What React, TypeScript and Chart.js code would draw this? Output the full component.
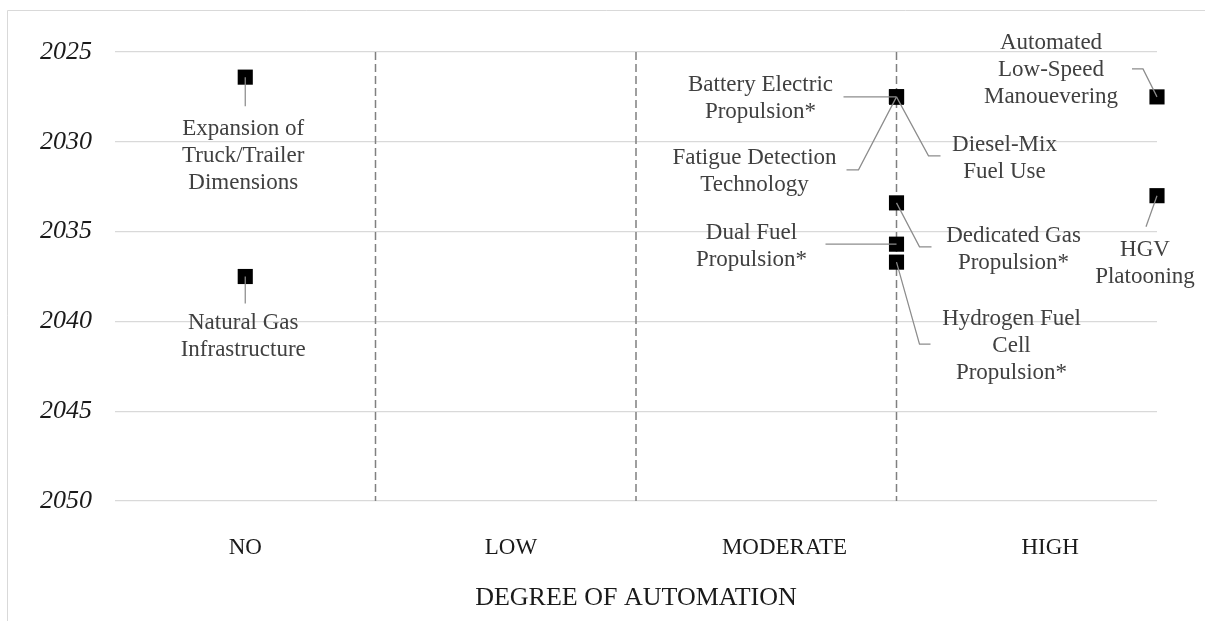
import React, { useEffect, useRef } from 'react';
import { Chart, registerables } from 'chart.js';

Chart.register(...registerables);

// ---------- data ----------
const categories = ['NO', 'LOW', 'MODERATE', 'HIGH'];
const categoryLabelPos = [0.5, 1.52, 2.57, 3.59];
const yearTicks = [2025, 2030, 2035, 2040, 2045, 2050];
const boundaries = [1, 2, 3];

const techNames: string[][] = [
  ['Expansion of', 'Truck/Trailer', 'Dimensions'],
  ['Natural Gas', 'Infrastructure'],
  ['Battery Electric', 'Propulsion*'],
  ['Fatigue Detection', 'Technology'],
  ['Diesel-Mix', 'Fuel Use'],
  ['Dedicated Gas', 'Propulsion*'],
  ['Dual Fuel', 'Propulsion*'],
  ['Hydrogen Fuel', 'Cell', 'Propulsion*'],
  ['Automated', 'Low-Speed', 'Manouevering'],
  ['HGV', 'Platooning'],
];
const techAutomation = [0.5, 0.5, 3, 3, 3, 3, 3, 3, 4, 4];
const techYear = [2026.4, 2037.5, 2027.5, 2027.5, 2027.5, 2033.4, 2035.7, 2036.7, 2027.5, 2033.0];

// ---------- label layout (pixel offsets from each marker) ----------
const labelLayout: { dx: number; dy: number; leader: number[][] }[] = [
  { dx: -2, dy: 52, leader: [[0, 29]] },
  { dx: -2, dy: 46, leader: [[0, 27]] },
  { dx: -136, dy: -12, leader: [[-53, 0]] },
  { dx: -142, dy: 61, leader: [[-38, 73], [-50, 73]] },
  { dx: 108, dy: 48, leader: [[32, 59], [44, 59]] },
  { dx: 117, dy: 33, leader: [[23, 44], [35, 44]] },
  { dx: -145, dy: -11, leader: [[-71, 0]] },
  { dx: 115, dy: 57, leader: [[23, 82], [34, 82]] },
  { dx: -106, dy: -54, leader: [[-14, -28], [-25, -28]] },
  { dx: -12, dy: 54, leader: [[-11, 31]] },
];

const SERIF = '"Liberation Serif", "Times New Roman", serif';

const techLabelPlugin = {
  id: 'techLabels',
  beforeDraw(chart: any) {
    const ctx = chart.ctx;
    ctx.save();
    ctx.strokeStyle = '#d9d9d9';
    ctx.lineWidth = 1;
    ctx.beginPath();
    ctx.moveTo(7.5, 621);
    ctx.lineTo(7.5, 10.5);
    ctx.lineTo(1205, 10.5);
    ctx.stroke();
    ctx.restore();
  },
  afterDatasetsDraw(chart: any) {
    const ctx = chart.ctx;
    const xs = chart.scales.x;
    const ys = chart.scales.y;
    ctx.save();
    techNames.forEach((lines, i) => {
      const px = xs.getPixelForValue(techAutomation[i]);
      const py = ys.getPixelForValue(techYear[i]);
      const L = labelLayout[i];
      ctx.strokeStyle = '#8c8c8c';
      ctx.lineWidth = 1.25;
      ctx.beginPath();
      ctx.moveTo(px, py);
      L.leader.forEach(([dx, dy]) => ctx.lineTo(px + dx, py + dy));
      ctx.stroke();
      ctx.font = `23px ${SERIF}`;
      ctx.fillStyle = '#404040';
      ctx.textAlign = 'center';
      ctx.textBaseline = 'middle';
      lines.forEach((t, j) => ctx.fillText(t, px + L.dx, py + L.dy + j * 27));
    });
    ctx.restore();
  },
};

export default function App() {
  const canvasRef = useRef<HTMLCanvasElement | null>(null);

  useEffect(() => {
    if (!canvasRef.current) return;
    const dashed = boundaries.map((b) => ({
      type: 'line' as const,
      data: [
        { x: b, y: yearTicks[0] },
        { x: b, y: yearTicks[yearTicks.length - 1] },
      ],
      borderColor: '#808080',
      borderWidth: 1.5,
      borderDash: [8, 4],
      pointRadius: 0,
      fill: false,
      order: 2,
    }));
    const chart = new Chart(canvasRef.current, {
      type: 'scatter',
      data: {
        datasets: [
          {
            type: 'scatter',
            data: techAutomation.map((x, i) => ({ x, y: techYear[i] })),
            pointStyle: 'rect',
            pointRadius: 10.7,
            pointHoverRadius: 10.7,
            backgroundColor: '#000000',
            borderWidth: 0,
            clip: false,
            order: 0,
          } as any,
          ...dashed,
        ],
      },
      options: {
        animation: false,
        responsive: false,
        events: [],
        layout: { padding: { top: 52, right: 48, left: 0, bottom: 0 } },
        plugins: { legend: { display: false }, tooltip: { enabled: false } },
        scales: {
          x: {
            type: 'linear',
            min: 0,
            max: 4,
            grid: { display: false, drawTicks: false },
            border: { display: false },
            afterBuildTicks: (s: any) => {
              s.ticks = categoryLabelPos.map((v) => ({ value: v }));
            },
            afterFit: (s: any) => {
              s.height = 120;
            },
            ticks: {
              autoSkip: false,
              maxRotation: 0,
              padding: 33,
              color: '#1a1a1a',
              font: { family: SERIF, size: 23 },
              callback: (_v: any, i: number) => categories[i],
            },
            title: {
              display: true,
              text: 'DEGREE OF AUTOMATION',
              color: '#1a1a1a',
              font: { family: SERIF, size: 26 },
              padding: { top: 0, bottom: 7 },
            },
          },
          y: {
            type: 'linear',
            reverse: true,
            min: yearTicks[0],
            max: yearTicks[yearTicks.length - 1],
            grid: { color: '#d9d9d9', lineWidth: 1.2, drawTicks: false },
            border: { display: false },
            afterBuildTicks: (s: any) => {
              s.ticks = yearTicks.map((v) => ({ value: v }));
            },
            afterFit: (s: any) => {
              s.width = 115;
            },
            ticks: {
              padding: 23,
              color: '#1a1a1a',
              font: { family: SERIF, size: 26, style: 'italic' },
              callback: (v: any) => String(v),
            },
          },
        },
      },
      plugins: [techLabelPlugin],
    } as any);
    return () => chart.destroy();
  }, []);

  return (
    <div style={{ position: 'fixed', left: 0, top: 0, width: 1205, height: 621, background: '#ffffff' }}>
      <canvas ref={canvasRef} width={1205} height={621} style={{ display: 'block' }} />
    </div>
  );
}
